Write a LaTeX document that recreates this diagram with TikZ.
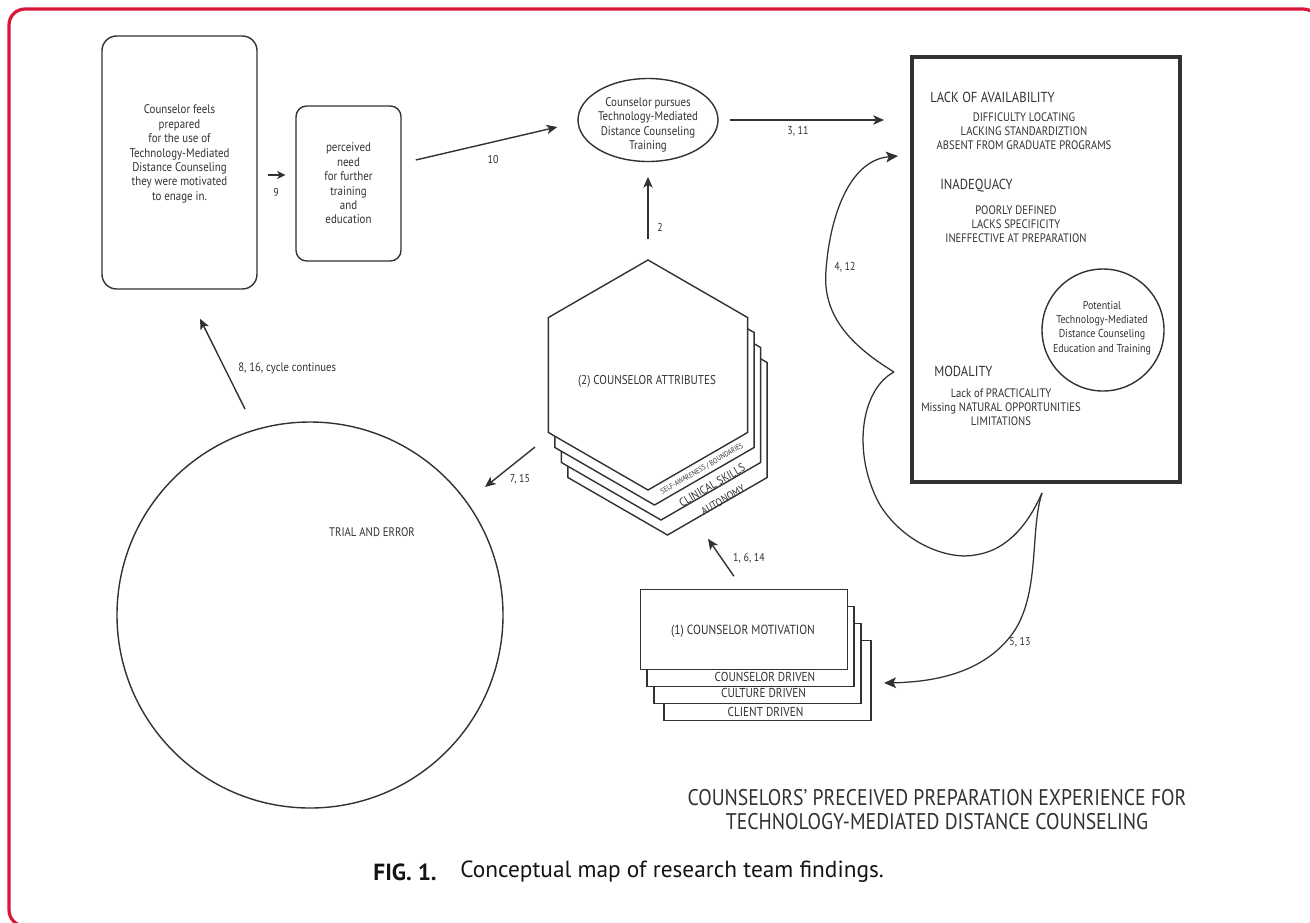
\documentclass[tikz,border=0pt]{standalone}
\usepackage{fontspec}
\setmainfont{PT Sans}[FakeStretch=0.87]
\newfontfamily\capfont{PT Sans}
\usetikzlibrary{arrows.meta,shapes.geometric,calc}
\definecolor{frame}{RGB}{218,22,58}
\definecolor{ink}{RGB}{50,50,50}
\definecolor{capink}{RGB}{20,20,20}
\begin{document}
\begin{tikzpicture}[x=0.75pt,y=-0.75pt,
  arr/.style={draw=ink, line width=1.05pt, -{Stealth[length=8pt,width=7pt,inset=2pt]}},
  smallarr/.style={draw=ink, line width=1.05pt, -{Stealth[length=6pt,width=6pt,inset=1.5pt]}},
  curve/.style={draw=ink, line width=0.95pt},
  lbl/.style={text=ink, font=\fontsize{8.6}{10}\selectfont, inner sep=0pt},
  body/.style={text=ink, align=center, font=\fontsize{9.4}{10.8}\selectfont, inner sep=0pt},
  head/.style={text=ink, font=\fontsize{10.9}{13}\selectfont, inner sep=0pt, anchor=west},
  item/.style={text=ink, align=center, font=\fontsize{9.2}{10.5}\selectfont, inner sep=0pt},
  rbox/.style={draw=ink, line width=1.05pt, rounded corners=10pt},
  hexa/.style={draw=ink, line width=1.05pt, fill=white, regular polygon, regular polygon sides=6,
               shape border rotate=30, minimum size=172.5pt, inner sep=0pt},
  mrect/.style={draw=ink, line width=1.05pt, fill=white, minimum width=155.25pt, minimum height=60pt, inner sep=0pt},
  edge lbl/.style={text=ink, inner sep=0pt, rotate=30},
  stack lbl/.style={text=ink, font=\fontsize{9.7}{11}\selectfont, inner sep=0pt},
]
\useasboundingbox (0,0) rectangle (1310,922);
\clip (0,0) rectangle (1310,922);
\fill[white] (0,0) rectangle (1310,922);
\draw[frame, line width=2.4pt, rounded corners=12pt] (9,9) rectangle (1319,926);

% top row
\node[rbox, rounded corners=11pt, minimum width=116.25pt, minimum height=189.75pt] (prep) at (179.5,162.5) {};
\node[body] (prepT) at (179.5,154) {Counselor feels\\prepared\\for the use of\\Technology-Mediated\\Distance Counseling\\they were motivated\\to enage in.};
\node[rbox, rounded corners=8pt, minimum width=78.75pt, minimum height=116.25pt, body] (need) at (348.5,183.5) {perceived\\need\\for further\\training\\and\\education};
\node[draw=ink, line width=1.05pt, ellipse, minimum width=105pt, minimum height=62.25pt, inner sep=0pt] (ell) at (648,120) {};
\node[body] (ellT) at (648,125) {Counselor pursues\\Technology-Mediated\\Distance Counseling\\Training};

% findings box
\node[draw=ink, line width=3pt, minimum width=201pt, minimum height=318.75pt, inner sep=0pt] (findings) at (1046,269.5) {};
\node[head] (h1) at (930,97) {LACK OF AVAILABILITY};
\node[item] (i1) at (1024,131) {DIFFICULTY LOCATING\\LACKING STANDARDIZTION\\ABSENT FROM GRADUATE PROGRAMS};
\node[head] (h2) at (940,186) {INADEQUACY};
\node[item] (i2) at (1016,224) {POORLY DEFINED\\LACKS SPECIFICITY\\INEFFECTIVE AT PREPARATION};
\node[draw=ink, line width=1.05pt, circle, minimum size=91.5pt, inner sep=0pt] (potential) at (1103,330) {};
\node[text=ink, align=center, font=\fontsize{8.6}{10.7}\selectfont, inner sep=0pt] (potT) at (1102,328) {Potential\\Technology-Mediated\\Distance Counseling\\Education and Training};
\node[head] (h3) at (934,371) {MODALITY};
\node[item] (i3) at (1001,407) {Lack of PRACTICALITY\\Missing NATURAL OPPORTUNITIES\\LIMITATIONS};

% hexagon stack
\node[hexa] (hexD) at (667.5,420) {};
\node[hexa] (hexC) at (661,405) {};
\node[hexa] (hexB) at (654.5,390) {};
\node[hexa] (hexA) at (648,375) {};
\node[text=ink, font=\fontsize{9.6}{11}\selectfont, inner sep=0pt] (hexT) at (647,381) {(2) COUNSELOR ATTRIBUTES};
\node[edge lbl, font=\fontsize{5.6}{6}\selectfont] (e1) at (702,469) {SELF-AWARENESS / BOUNDARIES};
\node[edge lbl, font=\fontsize{8.8}{10}\selectfont] (e2) at (712,485) {CLINICAL SKILLS};
\node[edge lbl, font=\fontsize{8.2}{10}\selectfont] (e3) at (723,500) {AUTONOMY};

% motivation stack
\node[mrect] (mot4) at (767.5,680.5) {};
\node[mrect] (mot3) at (757.5,663.5) {};
\node[mrect] (mot2) at (750.5,646.5) {};
\node[mrect] (mot1) at (744,629.5) {};
\node[text=ink, font=\fontsize{9.9}{11}\selectfont, inner sep=0pt] (motT) at (743,631) {(1) COUNSELOR MOTIVATION};
\node[stack lbl] (m2T) at (765,677) {COUNSELOR DRIVEN};
\node[stack lbl] (m3T) at (763.5,693) {CULTURE DRIVEN};
\node[stack lbl] (m4T) at (765.5,711.5) {CLIENT DRIVEN};

% trial and error
\node[draw=ink, line width=1.05pt, circle, minimum size=289.5pt, inner sep=0pt] (trial) at (310,615) {};
\node[text=ink, font=\fontsize{9.3}{10}\selectfont, inner sep=0pt] (trialT) at (372,532) {TRIAL AND ERROR};

% straight connectors
\draw[smallarr] ($(prep.east)+(10,12.5)$) -- ($(need.west)+(-10,-8.5)$);
\node[lbl] (l9) at (276,192) {9};
\draw[arr] ($(need.east)+(14,-23.5)$) -- ($(ell.west)+(-20,7)$);
\node[lbl] (l10) at (493,159) {10};
\draw[arr] ($(ell.east)+(11,0)$) -- ($(ell.east -| findings.west)+(-26,0)$);
\node[lbl] (l311) at (798,131) {3, 11};
\draw[arr, shorten <=15pt, shorten >=11pt] (hexA.north) -- (ell.south);
\node[lbl] (l2) at (660,227) {2};
\draw[arr] ($(hexA.center)+(-113,72)$) -- ($(trial.center)+(175,-128)$);
\node[lbl] (l715) at (520,479) {7, 15};
\draw[arr] ($(trial.center)+(-65,-206)$) -- ($(prep.south)+(20.5,29)$);
\node[lbl, anchor=west, font=\fontsize{9.2}{10}\selectfont] (l816) at (238,368) {8, 16, cycle continues};
\draw[arr] ($(mot1.north)+(-10,-12.5)$) -- ($(hexD.south)+(40.5,3)$);
\node[lbl] (l1614) at (749,558) {1, 6, 14};

% brace-like curved connectors
\coordinate (cA) at (894,372);
\coordinate (cB) at (1042,493);
\coordinate (tA) at (898,156);
\coordinate (tB) at (884,683);
\draw[curve, -{Stealth[length=9pt,width=8pt,inset=2pt]}] (cA) .. controls (850,345) and (822,315) .. (826,270) .. controls (830,215) and (850,160) .. (tA);
\draw[curve] (cA) .. controls (860,390) and (852,455) .. (880,505) .. controls (905,545) and (950,560) .. (975,555) .. controls (1010,550) and (1030,520) .. (cB);
\draw[curve, -{Stealth[length=9pt,width=8pt,inset=2pt]}] (cB) .. controls (1030,530) and (1040,590) .. (1015,630) .. controls (985,675) and (930,682) .. (tB);
\node[lbl] (l412) at (845,267) {4, 12};
\node[lbl] (l513) at (1020,642) {5, 13};

% titles
\node[text=ink, align=center, font=\fontsize{17}{18}\selectfont, inner sep=0pt] (title) at (937,810) {COUNSELORS’ PRECEIVED PREPARATION EXPERIENCE FOR\\TECHNOLOGY-MEDIATED DISTANCE COUNSELING};
\node[text=capink, font=\capfont\bfseries\fontsize{17.5}{19}\selectfont, inner sep=0pt, anchor=east] (fig) at (437,872) {FIG. 1.};
\node[text=capink, font=\capfont\fontsize{17.5}{19}\selectfont, inner sep=0pt, anchor=west] (cap) at (460,872) {Conceptual map of research team findings.};
\end{tikzpicture}
\end{document}
